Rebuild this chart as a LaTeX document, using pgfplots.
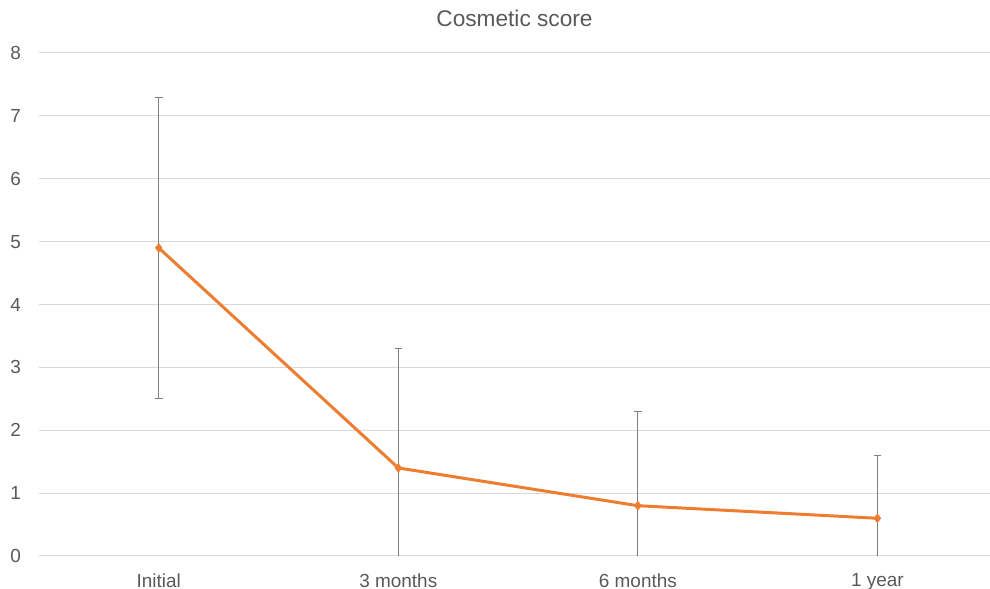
\documentclass[border=0pt]{standalone}
\usepackage{pgfplots}
\pgfplotsset{compat=1.18}
\usepackage{fontspec}
\setmainfont{Liberation Sans}
\definecolor{tickgray}{HTML}{595959}
\definecolor{gridgray}{HTML}{D9D9D9}
\definecolor{lineorange}{HTML}{ED7D31}
\definecolor{errgray}{HTML}{7F7F7F}
\begin{document}
\begin{tikzpicture}[x=0.75pt,y=0.75pt]
\useasboundingbox (-39,-33) rectangle (951,556);
\begin{axis}[
  at={(0,0)}, anchor=south west,
  scale only axis,
  width=713.25pt, height=377.25pt,
  xmin=-0.5, xmax=3.47,
  ymin=0, ymax=8,
  xtick={0,1,2,3},
  xticklabels={Initial,3 months,6 months,1 year},
  ytick={0,1,...,8},
  ymajorgrids,
  grid style={gridgray, line width=0.75pt},
  axis line style={draw=none},
  major tick length=0pt,
  tick label style={font=\fontsize{14.2pt}{16pt}\selectfont, text=tickgray},
  /pgf/number format/assume math mode=true,
  yticklabel style={xshift=-10pt},
  xticklabel style={yshift=-9.5pt},
  title={Cosmetic score},
  title style={font=\fontsize{17pt}{20pt}\selectfont, text=tickgray, yshift=10pt},
  clip=true,
]
\addplot[
  color=lineorange, line width=2.25pt,
  mark=diamond*, mark size=3.3pt,
  mark options={fill=lineorange, draw=lineorange, line width=0.5pt},
  error bars/.cd, y dir=both, y explicit,
  error bar style={errgray, line width=0.75pt},
  error mark options={errgray, line width=0.75pt, mark size=2.8pt, rotate=90},
] table[x=x, y=y, y error=e] {
x y e
0 4.9 2.4
1 1.4 1.9
2 0.8 1.5
3 0.6 1.0
};
\end{axis}
\end{tikzpicture}
\end{document}
